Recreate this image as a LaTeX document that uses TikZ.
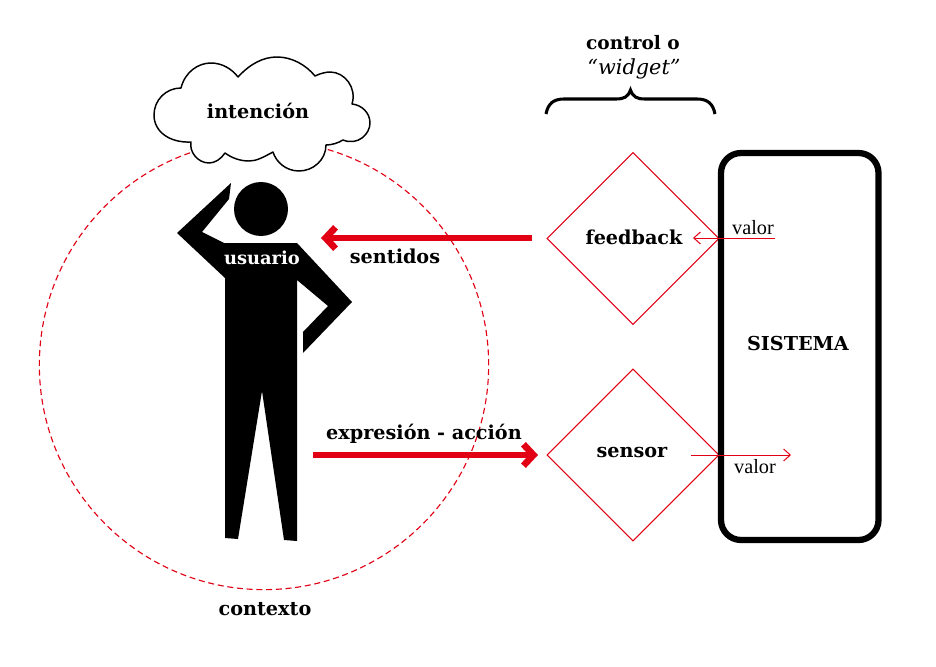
\documentclass[tikz,border=0pt]{standalone}
\usepackage{fontspec}
\setmainfont{DejaVu Serif}
\newfontfamily\thinfont{Liberation Serif}
\usetikzlibrary{arrows.meta,shapes.geometric,decorations.pathreplacing,calc}
\definecolor{rojo}{RGB}{225,0,20}
\tikzset{
  x=0.75pt,y=-0.75pt,
  lbl/.style={inner sep=0pt,font=\bfseries\fontsize{14.4}{16}\selectfont,text=black},
  thinlbl/.style={inner sep=0pt,font=\thinfont\fontsize{15.2}{17}\selectfont},
  ctrl/.style={diamond,draw=rojo,line width=0.8pt,aspect=1,inner sep=0pt,minimum width=129pt,minimum height=129pt},
  bigarrow/.style={draw=rojo,line width=5.2pt,-{Straight Barb[length=7.5pt,width=16pt,line width=5pt]}},
  thinarrow/.style={draw=rojo,line width=0.75pt,-{Straight Barb[length=5pt,width=9pt,line width=0.75pt]}},
}
\begin{document}
\begin{tikzpicture}
\useasboundingbox (0,0) rectangle (936,667);
% contexto circle
\node[circle,draw=rojo,dashed,dash pattern=on 4.5pt off 2.8pt,line width=0.85pt,minimum size=337pt,inner sep=0pt] (ctx) at (264,365) {};
% cloud
\draw[fill=white,line width=1.1pt,line join=round] (191,142)
 .. controls (170,143) and (154,132) .. (154,115)
 .. controls (154,100) and (166,88) .. (181,88)
 .. controls (185,72) and (198,63) .. (211,63)
 .. controls (222,63) and (232,69) .. (238,77)
 .. controls (250,64) and (263,57) .. (277,57)
 .. controls (292,57) and (306,65) .. (315,76)
 .. controls (321,73) and (327,72) .. (330,72)
 .. controls (345,72) and (357,88) .. (352,104)
 .. controls (362,105) and (370,113) .. (370,123)
 .. controls (370,134) and (358,146) .. (343,140)
 .. controls (338,143) and (332,145) .. (326,145)
 .. controls (326,160) and (313,171) .. (299,171)
 .. controls (286,171) and (276,162) .. (273,152)
 .. controls (262,158) and (256,161) .. (249,161)
 .. controls (240,161) and (232,158) .. (225,153)
 .. controls (221,159) and (215,163) .. (209,163)
 .. controls (198,163) and (189,152) .. (191,142) -- cycle;
\node[lbl] (intencion) at (258,111) {intención};
% person
\fill (261,209) circle (27);
\fill (231,183) -- (229,199) -- (202,232) -- (224,243) -- (297,243) -- (352,302) -- (303,353) -- (303,332) -- (328,306) -- (297,280)
  -- (297,541) -- (284,540) -- (262,391) -- (238,539) -- (225,538) -- (225,278) -- (177,233) -- cycle;
\node[lbl,text=white,font=\bfseries\fontsize{13.4}{15}\selectfont] (usuario) at (262,258) {usuario};
% controls
\node[ctrl] (feedback) at (633,238.5) {};
\node[ctrl] (sensor) at (633,455) {};
\node[lbl] (tfeedback) at (634,237.5) {feedback};
\node[lbl] (tsensor) at (632,452.5) {sensor};
% system
\draw[line width=4.7pt,rounded corners=15pt] (721,153) rectangle (878.5,540);
\node[lbl] (sistema) at (798,343.5) {SISTEMA};
% brace
\coordinate (bl) at (546,114); \coordinate (br) at (715,114);
\draw[line width=2.3pt,line cap=butt] (bl) .. controls (548,104) and (553,99) .. (564,99) -- (616,99)
  .. controls (624,99) and (628,97) .. (630.5,90) .. controls (633,97) and (637,99) .. (645,99) -- (697,99)
  .. controls (708,99) and (713,104) .. (br);
\node[lbl,font=\bfseries\fontsize{13.9}{16}\selectfont] (control) at (633,43) {control o};
\node[inner sep=0pt,font=\itshape\fontsize{15.6}{18}\selectfont] (widget) at (634,69) {“widget”};
% arrows
\coordinate (a1) at (532,238); \coordinate (a2) at (321,238);
\draw[bigarrow] (a1) -- (a2);
\coordinate (b1) at (313,455); \coordinate (b2) at (538,455);
\draw[bigarrow] (b1) -- (b2);
\node[lbl] (sentidos) at (395,256) {sentidos};
\node[lbl] (expresion) at (424,434) {expresión - acción};
% valor
\coordinate (v1) at (775,238); \coordinate (v2) at (693,238);
\draw[thinarrow] (v1) -- (v2);
\coordinate (w1) at (691,455); \coordinate (w2) at (791,455);
\draw[thinarrow] (w1) -- (w2);
\node[thinlbl] (valor1) at (753,228) {valor};
\node[thinlbl] (valor2) at (755,467) {valor};
\node[lbl] (contexto) at (265,609) {contexto};
\end{tikzpicture}
\end{document}
